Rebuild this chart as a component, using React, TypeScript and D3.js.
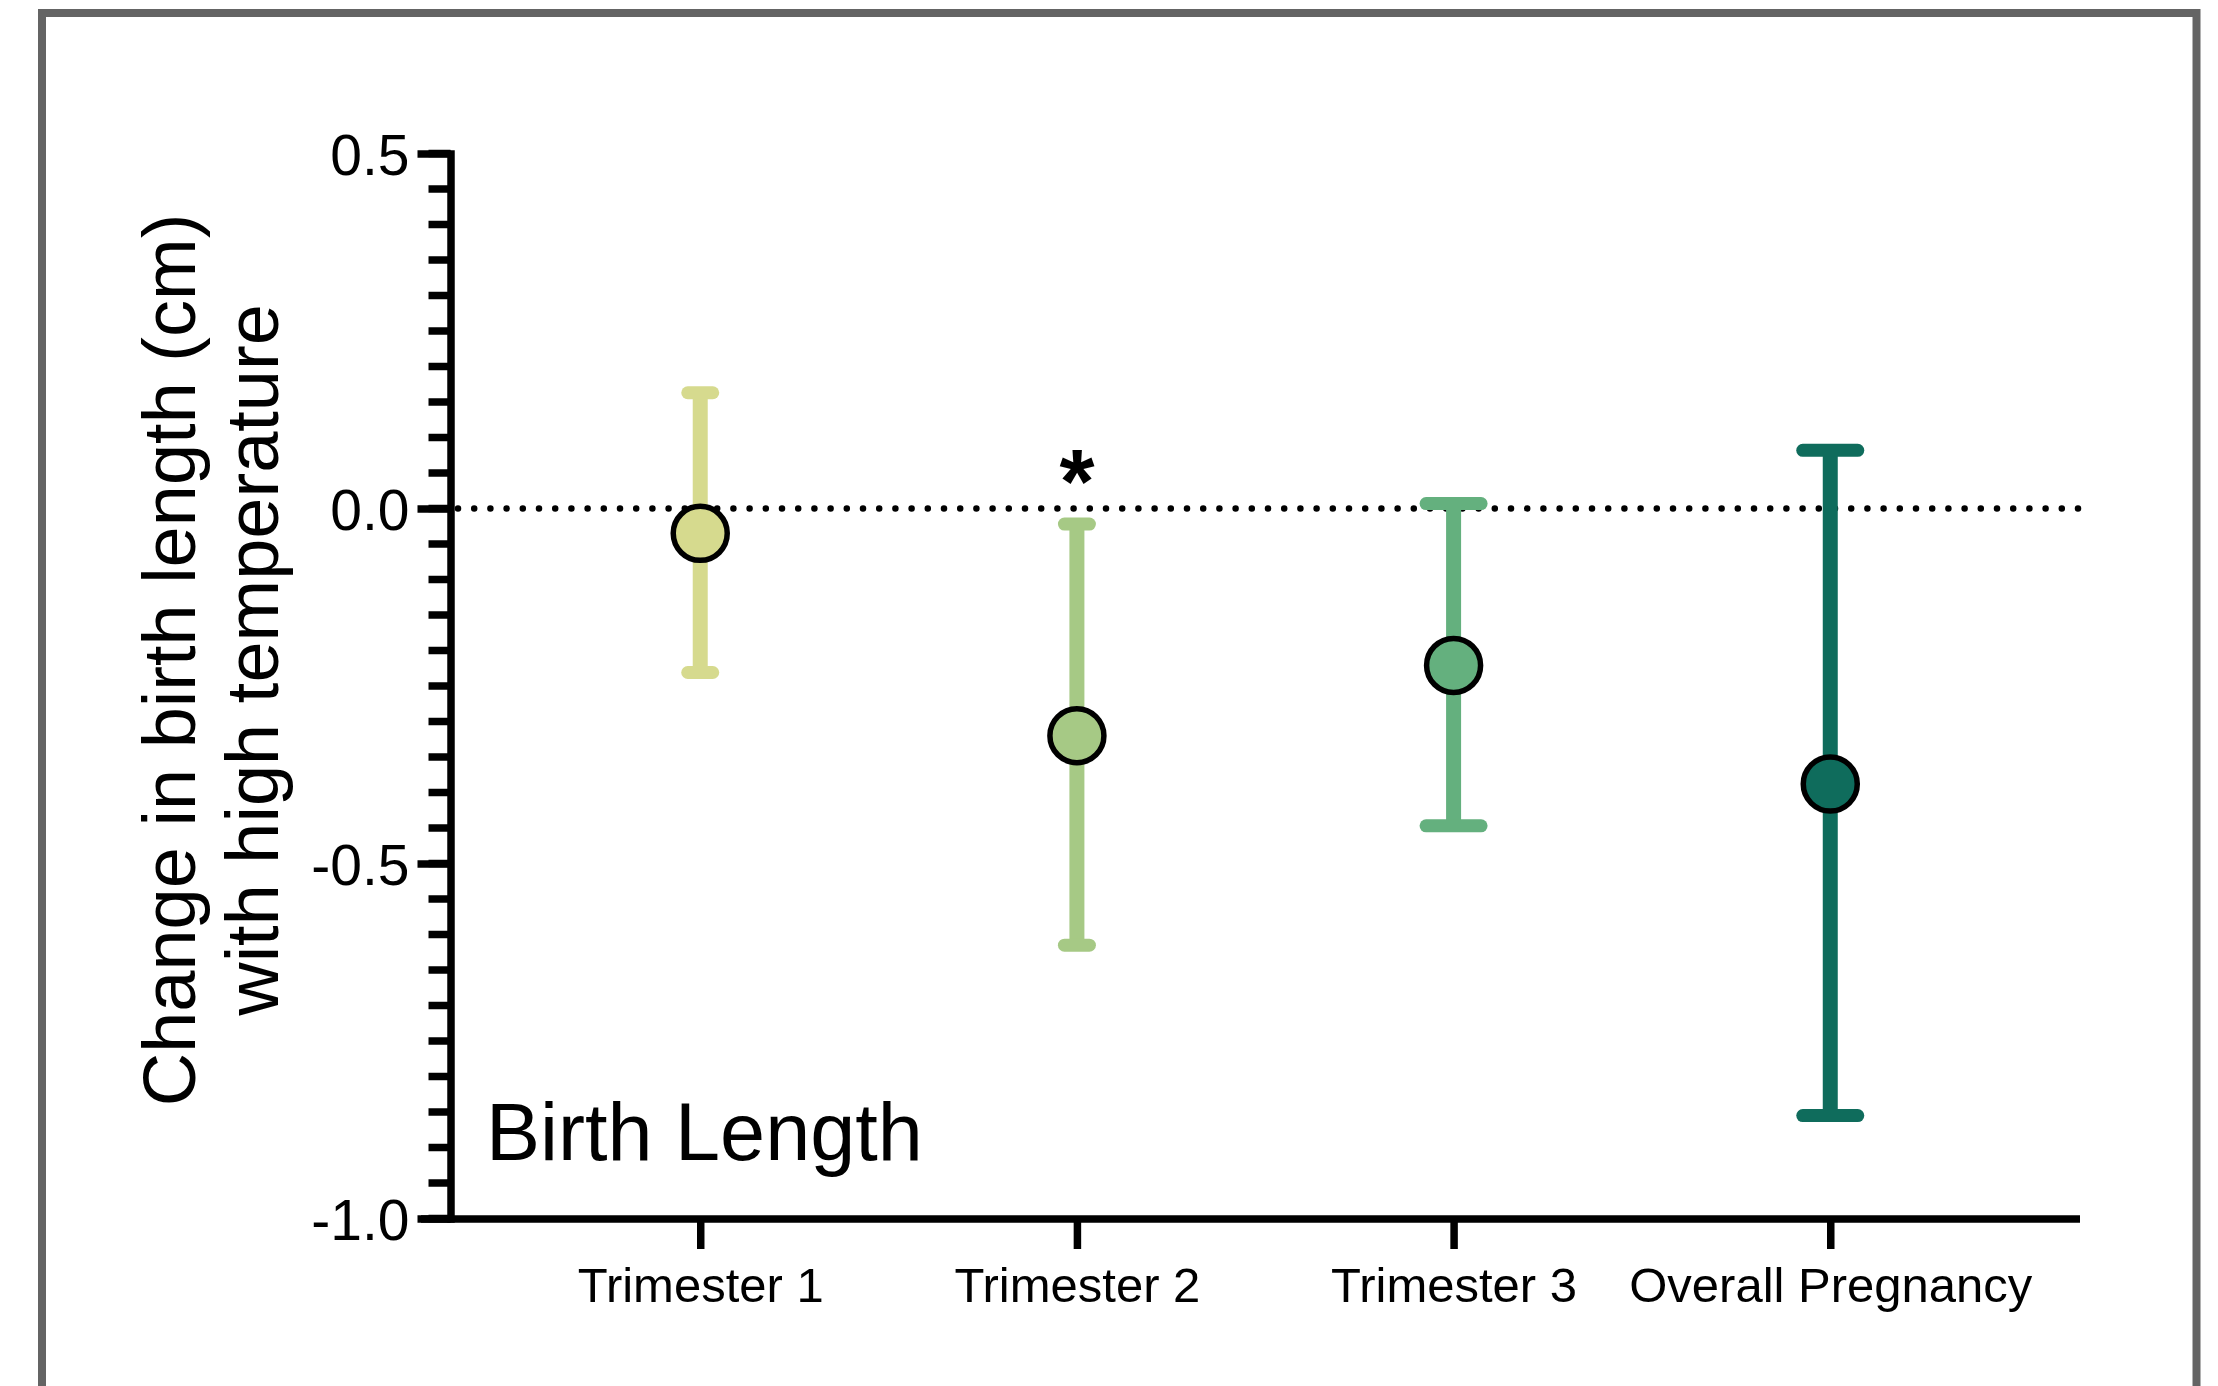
/**
 * Change in birth length with high temperature, by trimester: point estimates with CI bars.
 */

import { useEffect, useRef } from "react";
import * as d3 from "d3";

const WIDTH = 2218;
const HEIGHT = 1386;
const FONT = "'Liberation Sans', Arial, Helvetica, sans-serif";

const CATEGORIES = ["Trimester 1", "Trimester 2", "Trimester 3", "Overall Pregnancy"];
const ESTIMATES = [-0.035, -0.32, -0.221, -0.388];
const CI_LOWER = [-0.231, -0.615, -0.447, -0.855];
const CI_UPPER = [0.163, -0.022, 0.007, 0.082];
const SIGNIFICANT = [false, true, false, false];
const Y_TICKS = [0.5, 0.0, -0.5, -1.0];

/** Per-category styling. */
const COLORS = ["#d6da8e", "#a6c985", "#64b07e", "#0f6c5c"];
const CAP_WIDTHS = [38, 38, 68, 68];

const AXIS_W = 7.5;
const BAR_W = 15;
const CAP_H = 13;

export default function App() {
  const svgRef = useRef<SVGSVGElement | null>(null);

  useEffect(() => {
    const svg = d3.select(svgRef.current);
    svg.selectAll("*").remove();

    const x = d3
      .scalePoint<string>()
      .domain(CATEGORIES)
      .range([450.5, 2080])
      .padding(0.663);

    const y = d3.scaleLinear().domain([-1, 0.5]).range([1218.5, 153.5]);

    const rows = CATEGORIES.map((c, i) => ({
      c,
      i,
      est: ESTIMATES[i],
      lo: CI_LOWER[i],
      hi: CI_UPPER[i],
      sig: SIGNIFICANT[i],
    }));

    // frame
    svg
      .append("rect")
      .attr("x", 42)
      .attr("y", 13)
      .attr("width", 2154.5)
      .attr("height", 1450)
      .attr("fill", "none")
      .attr("stroke", "#646464")
      .attr("stroke-width", 8);

    // zero reference line
    svg
      .append("line")
      .attr("x1", 458)
      .attr("x2", 2080)
      .attr("y1", y(0))
      .attr("y2", y(0))
      .attr("stroke", "#000")
      .attr("stroke-width", 6.5)
      .attr("stroke-linecap", "round")
      .attr("stroke-dasharray", "0 16.2");

    // error bars
    const bars = svg.append("g").attr("class", "ci-bars");
    bars
      .selectAll("line.stem")
      .data(rows)
      .join("line")
      .attr("class", "stem")
      .attr("x1", (d) => x(d.c)!)
      .attr("x2", (d) => x(d.c)!)
      .attr("y1", (d) => y(d.hi))
      .attr("y2", (d) => y(d.lo))
      .attr("stroke", (d) => COLORS[d.i])
      .attr("stroke-width", BAR_W);

    const caps = rows.flatMap((d) => [
      { ...d, v: d.hi },
      { ...d, v: d.lo },
    ]);
    bars
      .selectAll("line.cap")
      .data(caps)
      .join("line")
      .attr("class", "cap")
      .attr("x1", (d) => x(d.c)! - (CAP_WIDTHS[d.i] - CAP_H) / 2)
      .attr("x2", (d) => x(d.c)! + (CAP_WIDTHS[d.i] - CAP_H) / 2)
      .attr("y1", (d) => y(d.v))
      .attr("y2", (d) => y(d.v))
      .attr("stroke", (d) => COLORS[d.i])
      .attr("stroke-width", CAP_H)
      .attr("stroke-linecap", "round");

    // point estimates
    svg
      .append("g")
      .selectAll("circle")
      .data(rows)
      .join("circle")
      .attr("cx", (d) => x(d.c)!)
      .attr("cy", (d) => y(d.est))
      .attr("r", 27)
      .attr("fill", (d) => COLORS[d.i])
      .attr("stroke", "#000")
      .attr("stroke-width", 5.5);

    // significance marks
    svg
      .append("g")
      .selectAll("text")
      .data(rows.filter((d) => d.sig))
      .join("text")
      .attr("x", (d) => x(d.c)!)
      .attr("y", (d) => y(d.hi) - 11)
      .attr("text-anchor", "middle")
      .attr("font-family", FONT)
      .attr("font-size", 90)
      .attr("font-weight", 700)
      .attr("fill", "#000")
      .text("*");

    // y axis: minor ticks every 0.05
    const minor = d3.range(-1, 0.5001, 0.05).map((v) => +v.toFixed(2));
    const yMinor = svg.append("g").attr("transform", "translate(450.5,0)");
    yMinor
      .selectAll("line")
      .data(minor)
      .join("line")
      .attr("x1", -22)
      .attr("x2", 0)
      .attr("y1", (d) => y(d))
      .attr("y2", (d) => y(d))
      .attr("stroke", "#000")
      .attr("stroke-width", AXIS_W);

    const yAxis = svg
      .append("g")
      .attr("transform", "translate(450.5,0)")
      .call(
        d3
          .axisLeft(y)
          .tickValues(Y_TICKS)
          .tickSize(33)
          .tickSizeOuter(0)
          .tickPadding(8)
          .tickFormat((v) => (+v).toFixed(1))
      );
    yAxis
      .select(".domain")
      .attr("stroke", "#000")
      .attr("stroke-width", AXIS_W)
      .attr("stroke-linecap", "square");
    yAxis.selectAll(".tick line").attr("stroke", "#000").attr("stroke-width", AXIS_W);
    yAxis
      .selectAll(".tick text")
      .attr("font-family", FONT)
      .attr("font-size", 57)
      .attr("fill", "#000")
      .attr("dy", "0.36em");

    // x axis
    const xAxis = svg
      .append("g")
      .attr("transform", "translate(0,1219)")
      .call(d3.axisBottom(x).tickSize(30).tickSizeOuter(0).tickPadding(18));
    xAxis.select(".domain").remove();
    xAxis
      .insert("line", ":first-child")
      .attr("x1", 421)
      .attr("x2", 2080)
      .attr("stroke", "#000")
      .attr("stroke-width", AXIS_W);
    xAxis.selectAll(".tick line").attr("stroke", "#000").attr("stroke-width", AXIS_W);
    xAxis
      .selectAll(".tick text")
      .attr("font-family", FONT)
      .attr("font-size", 49)
      .attr("fill", "#000");

    // y axis title
    const title = svg
      .append("text")
      .attr("transform", "translate(0,660) rotate(-90)")
      .attr("text-anchor", "middle")
      .attr("font-family", FONT)
      .attr("font-size", 74)
      .attr("fill", "#000");
    title.append("tspan").attr("x", 0).attr("y", 195).text("Change in birth length (cm)");
    title.append("tspan").attr("x", 0).attr("y", 278).text("with high temperature");

    // panel label
    svg
      .append("text")
      .attr("x", 486)
      .attr("y", 1160)
      .attr("font-family", FONT)
      .attr("font-size", 81)
      .attr("fill", "#000")
      .text("Birth Length");
  }, []);

  return (
    <svg
      ref={svgRef}
      width={WIDTH}
      height={HEIGHT}
      viewBox={`0 0 ${WIDTH} ${HEIGHT}`}
      style={{ position: "absolute", left: 0, top: 0, background: "#fff" }}
      role="img"
      aria-label="Change in birth length with high temperature"
    />
  );
}
